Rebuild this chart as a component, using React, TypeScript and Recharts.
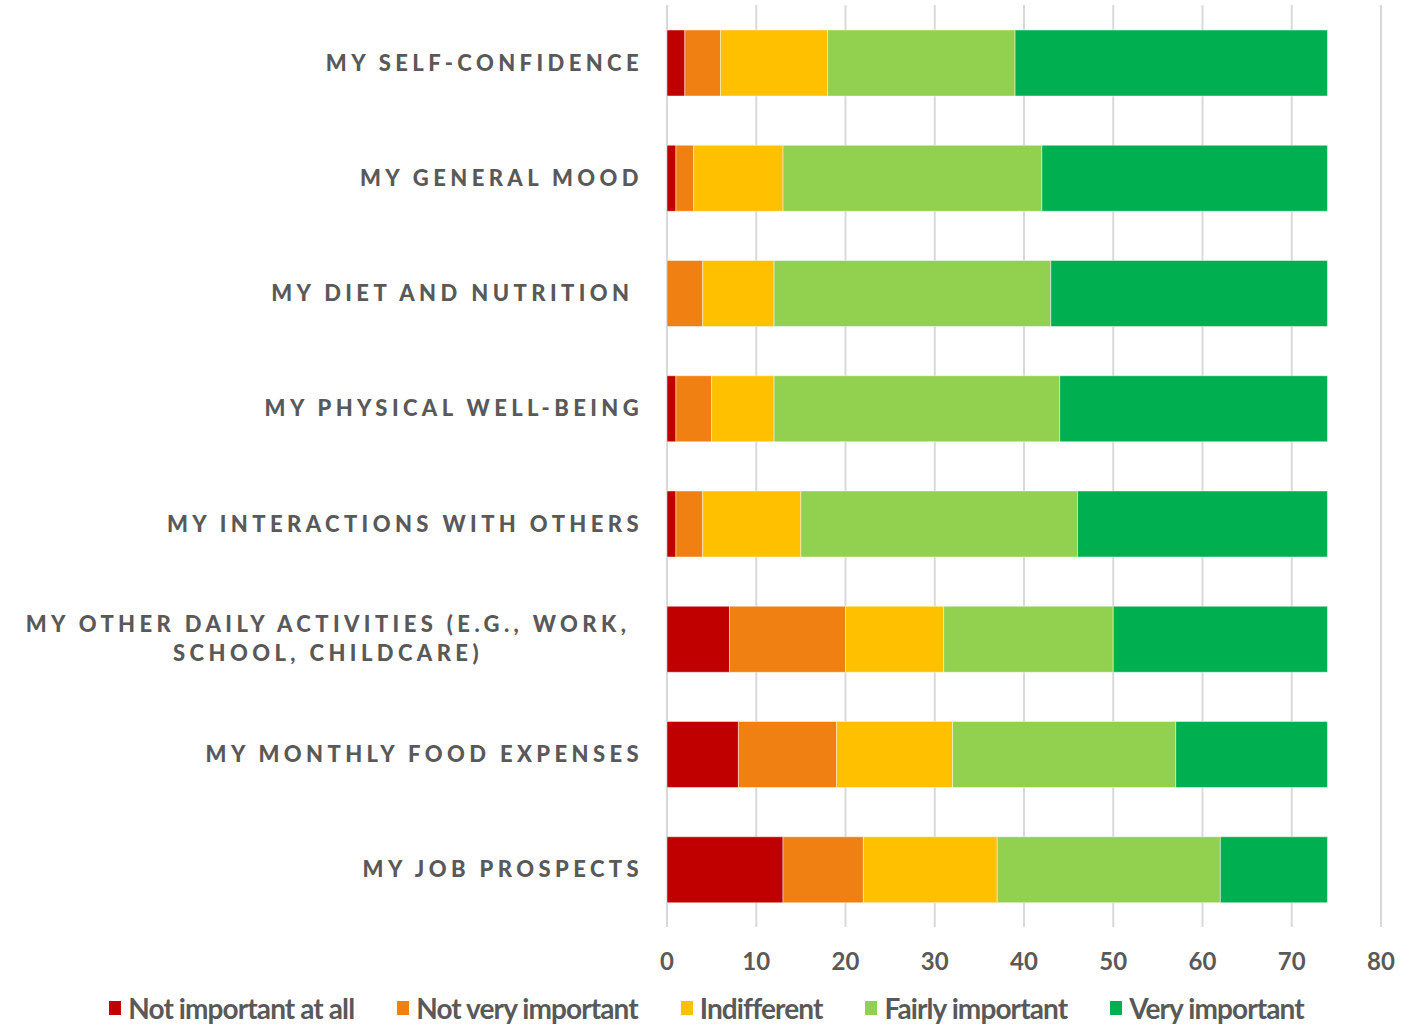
import React from 'react';
import { Bar, BarChart, CartesianGrid, Legend, XAxis, YAxis } from 'recharts';

const categories = [
  'MY SELF-CONFIDENCE',
  'MY GENERAL MOOD',
  'MY DIET AND NUTRITION\u00A0',
  'MY PHYSICAL WELL-BEING',
  'MY INTERACTIONS WITH OTHERS',
  'MY OTHER DAILY ACTIVITIES (E.G., WORK,\nSCHOOL, CHILDCARE)',
  'MY MONTHLY FOOD EXPENSES',
  'MY JOB PROSPECTS',
];

const notImportantAtAll = [2, 1, 0, 1, 1, 7, 8, 13];
const notVeryImportant = [4, 2, 4, 4, 3, 13, 11, 9];
const indifferent = [12, 10, 8, 7, 11, 11, 13, 15];
const fairlyImportant = [21, 29, 31, 32, 31, 19, 25, 25];
const veryImportant = [35, 32, 31, 30, 28, 24, 17, 12];

const xTicks = [0, 10, 20, 30, 40, 50, 60, 70, 80];

const series = [
  { key: 'notAtAll', name: 'Not important at all', color: '#C00000', values: notImportantAtAll },
  { key: 'notVery', name: 'Not very important', color: '#F08012', values: notVeryImportant },
  { key: 'indifferent', name: 'Indifferent', color: '#FFC000', values: indifferent },
  { key: 'fairly', name: 'Fairly important', color: '#92D050', values: fairlyImportant },
  { key: 'very', name: 'Very important', color: '#00B050', values: veryImportant },
];

const data = categories.map((name, i) => {
  const row: Record<string, string | number> = { name };
  series.forEach((s) => {
    row[s.key] = s.values[i];
  });
  return row;
});

const labelFont = '"Lato", "DejaVu Sans", sans-serif';
const textColor = '#595959';
const catStyle = { fontFamily: labelFont, fontSize: 22, fontWeight: 900, letterSpacing: 4.4 };

const CategoryTick = (props: any) => {
  const { x, y, payload } = props;
  const lines: string[] = String(payload.value).split('\n');
  if (lines.length === 1) {
    return (
      <text x={x - 16} y={y} dy="0.36em" textAnchor="end" fill={textColor} style={catStyle}>
        {lines[0]}
      </text>
    );
  }
  return (
    <text x={x - 331} y={y - 15} textAnchor="middle" fill={textColor} style={catStyle}>
      {lines.map((line, i) => (
        <tspan key={i} x={x - 331} dy={i === 0 ? '0.36em' : 29}>
          {line}
        </tspan>
      ))}
    </text>
  );
};

const LegendContent = () => (
  <div
    style={{
      display: 'flex',
      justifyContent: 'center',
      gap: 43,
      paddingTop: 17,
      fontFamily: labelFont,
      fontSize: 28,
      lineHeight: '28px',
      fontWeight: 700,
      color: textColor,
      letterSpacing: -0.9,
      marginLeft: 32,
    }}
  >
    {series.map((s) => (
      <div key={s.key} style={{ display: 'flex', alignItems: 'center' }}>
        <span style={{ display: 'inline-block', width: 12, height: 14, background: s.color, marginRight: 7 }} />
        <span>{s.name}</span>
      </div>
    ))}
  </div>
);

export default function App() {
  return (
    <div style={{ position: 'absolute', left: 0, top: 0 }}>
      <BarChart
        width={1411}
        height={1027}
        data={data}
        layout="vertical"
        margin={{ top: 5, right: 30, left: 0, bottom: 0 }}
        barSize={66}
      >
        <CartesianGrid horizontal={false} vertical stroke="#D9D9D9" strokeWidth={2} />
        <XAxis
          type="number"
          domain={[0, 80]}
          ticks={xTicks}
          axisLine={false}
          tickLine={false}
          height={50}
          tickMargin={20}
          interval={0}
          tick={{ fill: textColor, fontSize: 24, fontWeight: 700, fontFamily: labelFont }}
        />
        <YAxis
          type="category"
          dataKey="name"
          width={667}
          axisLine={false}
          tickLine={false}
          interval={0}
          tick={<CategoryTick />}
        />
        <Legend verticalAlign="bottom" height={50} content={<LegendContent />} />
        {series.map((s) => (
          <Bar
            key={s.key}
            dataKey={s.key}
            name={s.name}
            stackId="a"
            fill={s.color}
            stroke="#ffffff"
            strokeOpacity={0.45}
            strokeWidth={1}
            isAnimationActive={false}
          />
        ))}
      </BarChart>
    </div>
  );
}
